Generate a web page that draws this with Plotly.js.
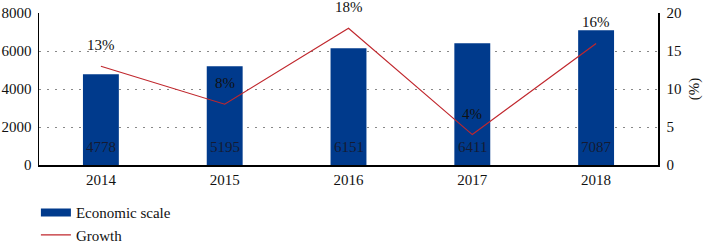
<!DOCTYPE html>
<html><head><meta charset="utf-8">
<script src="https://cdn.plot.ly/plotly-3.0.1.min.js"></script>
<style>html,body{margin:0;padding:0;background:#fff}</style>
</head><body>
<div id="chart" style="width:705px;height:242px"></div>
<script>
const years = ['2014', '2015', '2016', '2017', '2018'];
const scale = [4778, 5195, 6151, 6411, 7087];
const growth = [13, 8, 18, 4, 16];
const growthLabels = ['13%', '8%', '18%', '4%', '16%'];

const FONT = '"Liberation Serif", "Times New Roman", Times, serif';
const BLUE = '#003a8c';
const RED = '#c0272d';

const traces = [
  {
    // legend swatch for the bars (wide rectangle like the reference)
    type: 'scatter', mode: 'lines', name: 'Economic scale', x: [null], y: [null],
    line: {color: BLUE, width: 8}, hoverinfo: 'skip'
  },
  {
    type: 'bar', name: 'Economic scale', x: years, y: scale, showlegend: false,
    marker: {color: BLUE}, width: 0.29
  },
  {
    type: 'scatter', mode: 'lines', name: 'Growth', x: years, y: growth,
    yaxis: 'y2', line: {color: RED, width: 1.2}
  }
];

const annotations = [];
years.forEach((yr, i) => {
  annotations.push({
    x: i, y: growth[i], xref: 'x', yref: 'y2', text: growthLabels[i],
    showarrow: false, yshift: 21, font: {family: FONT, size: 15, color: '#111'}
  });
  annotations.push({
    x: i, y: 0, xref: 'x', yref: 'y', text: String(scale[i]),
    showarrow: false, yshift: 18, font: {family: FONT, size: 15, color: '#141a33'}
  });
});

const layout = {
  width: 705, height: 242,
  margin: {l: 39, r: 47, t: 13, b: 77, autoexpand: false},
  paper_bgcolor: '#fff', plot_bgcolor: '#fff',
  font: {family: FONT, size: 15, color: '#111'},
  showlegend: true,
  legend: {x: -0.005, xanchor: 'left', y: -0.205, yanchor: 'top', orientation: 'v',
           font: {family: FONT, size: 15, color: '#111'}, bgcolor: 'rgba(0,0,0,0)',
           tracegroupgap: 0, itemwidth: 30},
  xaxis: {type: 'category', range: [-0.5, 4.5], showline: true, linecolor: '#000', linewidth: 1.5,
          ticks: '', showgrid: false, zeroline: false,
          tickfont: {family: FONT, size: 15, color: '#111'}},
  yaxis: {range: [0, 8000], dtick: 2000, showline: true, linecolor: '#000', linewidth: 1.5,
          ticks: '', showgrid: true, gridcolor: '#888', griddash: '2px,6px', gridwidth: 1,
          zeroline: false, ticklabelstandoff: 3,
          tickfont: {family: FONT, size: 15, color: '#111'}},
  yaxis2: {range: [0, 20], dtick: 5, overlaying: 'y', side: 'right', showline: true,
           linecolor: '#000', linewidth: 1.5, ticks: '', showgrid: false, zeroline: false,
           ticklabelstandoff: 4,
           title: {text: '(%)', standoff: 8, font: {family: FONT, size: 15, color: '#111'}},
           tickfont: {family: FONT, size: 15, color: '#111'}},
  annotations: annotations
};

Plotly.newPlot('chart', traces, layout, {displayModeBar: false, staticPlot: true});
</script>
</body></html>
